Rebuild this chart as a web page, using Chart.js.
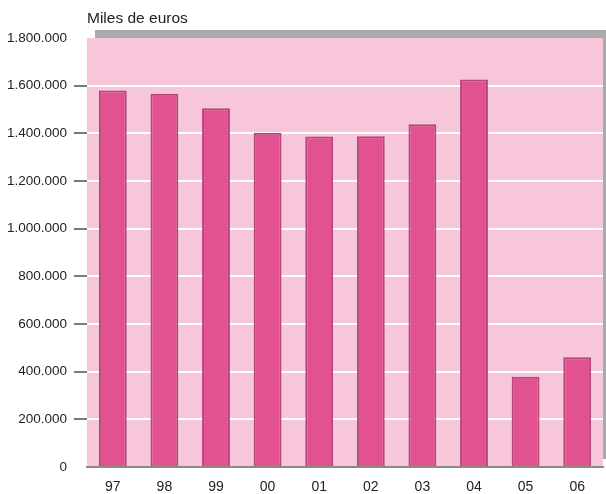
<!DOCTYPE html>
<html>
<head>
<meta charset="utf-8">
<script src="https://cdn.jsdelivr.net/npm/chart.js@4"></script>
<style>
  html, body { margin: 0; padding: 0; background: #ffffff; }
  #wrap { width: 606px; height: 494px; position: relative; }
</style>
</head>
<body>
<div id="wrap"><canvas id="c" width="606" height="494"></canvas></div>
<script>
const categories = ["97", "98", "99", "00", "01", "02", "03", "04", "05", "06"];
const values = [1580000, 1566000, 1505000, 1402000, 1387000, 1388000, 1438000, 1626000, 379000, 461000];
const yTicks = [0, 200000, 400000, 600000, 800000, 1000000, 1200000, 1400000, 1600000, 1800000];
const unitLabel = "Miles de euros";

function fmt(v) {
  return String(v).replace(/\B(?=(\d{3})+(?!\d))/g, ".");
}

const family = '"Liberation Sans", Arial, sans-serif';

const backgroundPlugin = {
  id: 'bgPanel',
  beforeDraw(chart) {
    const { ctx, chartArea: a } = chart;
    ctx.save();
    // drop shadow
    ctx.fillStyle = '#aaaaaa';
    ctx.fillRect(a.left + 8, a.top - 8, a.right - a.left, a.bottom - a.top);
    // pink panel
    ctx.fillStyle = '#f7c6da';
    ctx.fillRect(a.left, a.top, a.right - a.left, a.bottom - a.top);
    // unit label
    ctx.fillStyle = '#222222';
    ctx.font = '15.5px ' + family;
    ctx.textBaseline = 'middle';
    ctx.textAlign = 'left';
    ctx.fillText(unitLabel, a.left, 19);
    ctx.restore();
  }
};

new Chart(document.getElementById('c'), {
  type: 'bar',
  data: {
    labels: categories,
    datasets: [{
      data: values,
      backgroundColor: '#e35290',
      borderColor: '#b5457a',
      borderWidth: 2,
      categoryPercentage: 1.0,
      barPercentage: 0.54
    }]
  },
  options: {
    responsive: false,
    animation: false,
    devicePixelRatio: 1,
    layout: { padding: { top: 38, right: 3, left: 0, bottom: 0 } },
    plugins: { legend: { display: false }, tooltip: { enabled: false } },
    scales: {
      x: {
        grid: { display: false, drawTicks: false },
        border: { display: true, color: '#8a8a8a', width: 2 },
        ticks: {
          color: '#222222',
          font: { family: family, size: 14 },
          padding: 12
        },
        afterFit(s) { s.height = 27; }
      },
      y: {
        min: 0,
        max: 1800000,
        afterBuildTicks(s) { s.ticks = yTicks.map(v => ({ value: v })); },
        grid: {
          color: (c) => (c.tick && c.tick.value === 1800000) ? 'rgba(0,0,0,0)' : '#ffffff',
          lineWidth: 2,
          tickColor: (c) => (c.tick && (c.tick.value === 0 || c.tick.value === 1800000)) ? 'rgba(0,0,0,0)' : '#7a7a7a',
          tickLength: 13,
          drawOnChartArea: true
        },
        border: { display: false },
        ticks: {
          color: '#222222',
          font: { family: family, size: 13.5 },
          padding: 7,
          callback: (v) => fmt(v)
        },
        afterFit(s) { s.width = 87; }
      }
    }
  },
  plugins: [backgroundPlugin]
});
</script>
</body>
</html>
